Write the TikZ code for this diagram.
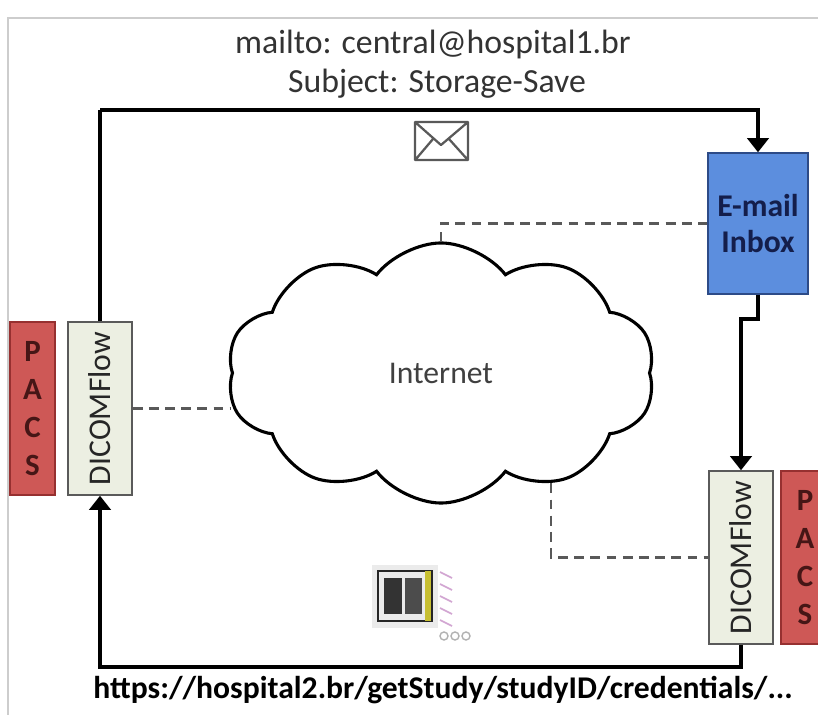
\documentclass[tikz,border=0pt]{standalone}
\usepackage{fontspec}
\setmainfont{Carlito}
\usetikzlibrary{shapes.symbols,arrows.meta}

\definecolor{pacsred}{RGB}{206,88,86}
\definecolor{pacsline}{RGB}{150,48,48}
\definecolor{pacstext}{RGB}{70,22,22}
\definecolor{flowfill}{RGB}{236,239,226}
\definecolor{flowline}{RGB}{90,90,90}
\definecolor{mailblue}{RGB}{92,142,222}
\definecolor{mailline}{RGB}{45,75,135}
\definecolor{mailtext}{RGB}{20,30,75}
\definecolor{framegray}{RGB}{205,205,205}

\begin{document}
\begin{tikzpicture}[x=0.025cm,y=-0.025cm,
  flow/.style={draw=flowline,fill=flowfill,line width=1pt,inner sep=0pt,
    minimum width=1.6cm,minimum height=4.325cm,font=\fontsize{22.5}{26}\selectfont,text=black!85},
  pacs/.style={draw=pacsline,fill=pacsred,line width=1pt,inner sep=0pt,align=center,
    minimum height=4.325cm,font=\fontsize{22}{27}\bfseries\selectfont\color{pacstext}},
  link/.style={line width=2.6pt,-{Triangle[length=10pt,width=15pt]}},
  net/.style={line width=1.5pt,black!65,dash pattern=on 7pt off 4.5pt},
  lbl/.style={font=\fontsize{24}{28}\selectfont,text=black!80}]
\clip (0,0) rectangle (818,715);
\fill[white] (0,0) rectangle (818,715);
\draw[framegray,line width=1.2pt] (8,715) |- (818,18);

% header
\node[lbl] (to) at (433,45) {mailto: central@hospital1.br};
\node[lbl] (subj) at (437,84) {Subject: Storage-Save};

% sites
\node[pacs,minimum width=1.125cm] (pacsL) at (32.5,408.5) {P\\A\\C\\S};
\node[flow] (flowL) at (100,408.5) {\rotatebox{90}{DICOMFlow}};
\node[flow] (flowR) at (741,557.5) {\rotatebox{90}{DICOMFlow}};
\node[pacs,minimum width=1.2cm] (pacsR) at (805,557.5) {P\\A\\C\\S};
\node[draw=mailline,fill=mailblue,line width=1pt,minimum width=2.5cm,minimum height=3.525cm,inner sep=0pt,
  align=center,font=\fontsize{22.5}{25}\bfseries\selectfont,text=mailtext] (mail) at (758,223.5) {E-mail\\Inbox};

\node[cloud,draw,line width=2.2pt,cloud puffs=10,cloud puff arc=105,aspect=1.65,
  minimum width=10.7cm,minimum height=6.5cm,font=\fontsize{22.5}{26}\selectfont,text=black!75] (net) at (441,373) {Internet};

% message path
\coordinate (topL) at (100,110);
\draw[line width=2.6pt] (flowL.north) -- (topL);
\draw[link] (topL) -| (mail.north);
\draw[link] (mail.south) -- ++(0,24) -| (flowR.north);
\draw[link] (flowR.south) -- ++(0,22) -| (flowL.south);

% network links
\draw[net] (flowL.east) -- (flowL.east -| net.west);
\draw[net] (net.north) |- (mail.west);
\draw[net] (net.-45) |- (flowR.west);

% envelope
\draw[black!65,line width=1.6pt,line join=round] (415,122) rectangle (468,160)
  (415,122) -- (441,145) -- (468,122) (416,159) -- (433,139) (467,159) -- (449,139);

% study thumbnail
\fill[black!8] (372,565) rectangle (438,628);
\draw[black!85,line width=1.8pt] (378,571) rectangle (432,621);
\fill[black!80] (384,578) rectangle (402,614);
\fill[black!70] (405,578) rectangle (422,614);
\fill[yellow!75!black] (425,571) rectangle (431,621);
\foreach \yy in {572,584,596,608,620}
  \draw[violet!35,line width=1.2pt] (440,\yy) -- (452,\yy+6);
\foreach \xx in {444,455,466}
  \draw[black!30,line width=1pt] (\xx,636) circle (4);

% footer
\node[font=\fontsize{22.5}{26}\bfseries\selectfont] (url) at (443,690) {https://hospital2.br/getStudy/studyID/credentials/...};
\end{tikzpicture}
\end{document}
